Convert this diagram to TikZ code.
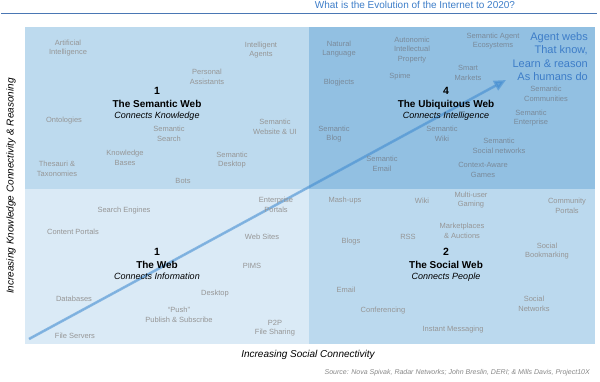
\documentclass[tikz,border=0pt]{standalone}
\usepackage{fontspec}
\setmainfont{Liberation Sans}
\usepackage{xcolor}
\usepackage{tikz}
\usetikzlibrary{arrows.meta, positioning}
\definecolor{semq}{RGB}{189,218,238}
\definecolor{ubiq}{RGB}{146,192,226}
\definecolor{webq}{RGB}{218,234,246}
\definecolor{socq}{RGB}{187,217,238}
\definecolor{itemgray}{RGB}{150,150,150}
\definecolor{itemdark}{RGB}{122,138,154}
\definecolor{titleblue}{RGB}{61,125,200}
\definecolor{ruleblue}{RGB}{74,119,180}
\definecolor{growthblue}{RGB}{63,138,208}
\tikzset{
  item/.style={font=\fontsize{7.5}{9.5}\selectfont, text=itemgray, align=center, inner sep=0pt},
  itemdk/.style={item, text=itemdark},
  webnum/.style={font=\bfseries\fontsize{10.5}{10.5}\selectfont, inner sep=0pt, text height=7.5pt, text depth=0pt},
  webname/.style={font=\bfseries\fontsize{10}{10}\selectfont, inner sep=0pt, text height=7.5pt, text depth=2pt},
  webnote/.style={font=\itshape\fontsize{9}{9}\selectfont, inner sep=0pt, text height=7pt, text depth=2pt},
  axislabel/.style={font=\itshape\fontsize{10}{10}\selectfont, inner sep=0pt},
  growth/.style={-{Triangle[length=12pt, width=10.5pt]}, line width=2.6pt, draw=growthblue, fill=growthblue, opacity=0.55},
}

\begin{document}
\begin{tikzpicture}[x=1pt, y=-1pt]
\useasboundingbox (0,0) rectangle (600,381);
% title and rule
\node[font=\fontsize{10}{10}\selectfont, text=titleblue, inner sep=0pt] (title) at (415,5) {What is the Evolution of the Internet to 2020?};
\draw[ruleblue, line width=0.9pt] (1,13) -- (597,13);
% quadrants
\fill[semq] (24.5,27) rectangle (309,189);
\fill[ubiq] (309,27) rectangle (595,189);
\fill[webq] (24.5,189) rectangle (309,344);
\fill[socq] (309,189) rectangle (595,344);
% growth arrow
\coordinate (tail) at (29,339);
\coordinate (tip) at (506,80);
\draw[growth] (tail) -- (tip);

% 1 - semantic web
\node[item] (ai) at (68,48) {Artificial\\Intelligence};
\node[item] (agents) at (261,50) {Intelligent\\Agents};
\node[item] (assist) at (207,77) {Personal\\Assistants};
\node[item] (onto) at (64,121) {Ontologies};
\node[item] (ssearch) at (169,134) {Semantic\\Search};
\node[item] (swebui) at (275,127) {Semantic\\Website \& UI};
\node[item] (kbases) at (125,158) {Knowledge\\Bases};
\node[item] (thes) at (57,169) {Thesauri \&\\Taxonomies};
\node[item] (sdesk) at (232,160) {Semantic\\Desktop};
\node[item] (bots) at (183,181) {Bots};
\node[webnum] (num1) at (157,91) {1};
\node[webname, below=4.5pt of num1] (semweb) {The Semantic Web};
\node[webnote, below=1.5pt of semweb] (semnote) {Connects Knowledge};

% 4 - ubiquitous web
\node[itemdk] (natlang) at (339,49) {Natural\\Language};
\node[itemdk] (autonomic) at (412,50) {Autonomic\\Intellectual\\Property};
\node[itemdk] (ecosys) at (493,41) {Semantic Agent\\Ecosystems};
\node[itemdk] (smart) at (468,73) {Smart\\Markets};
\node[itemdk] (spime) at (400,77) {Spime};
\node[itemdk] (blogjects) at (339,83) {Blogjects};
\node[itemdk] (scomm) at (546,94) {Semantic\\Communities};
\node[itemdk] (sent) at (531,118) {Semantic\\Enterprise};
\node[itemdk] (sblog) at (334,134) {Semantic\\Blog};
\node[itemdk] (swiki) at (442,134) {Semantic\\Wiki};
\node[itemdk] (ssocial) at (499,146) {Semantic\\Social networks};
\node[itemdk] (semail) at (382,164) {Semantic\\Email};
\node[itemdk] (games) at (483,170) {Context-Aware\\Games};
\node[font=\fontsize{11}{13.5}\selectfont, text=titleblue, align=right, inner sep=0pt, anchor=east] (agentwebs) at (588,56.5) {Agent webs\\That know,\\Learn \& reason\\As humans do};
\node[webnum] (num4) at (446,91) {4};
\node[webname, below=4.5pt of num4] (ubiweb) {The Ubiquitous Web};
\node[webnote, below=1.5pt of ubiweb] (ubinote) {Connects Intelligence};

% 1 - the web
\node[item] (entportals) at (276,205) {Enterprise\\Portals};
\node[item] (searcheng) at (124,211) {Search Engines};
\node[item] (contentp) at (73,232) {Content Portals};
\node[item] (websites) at (262,237) {Web Sites};
\node[item] (pims) at (252,266) {PIMS};
\node[item] (databases) at (74,299) {Databases};
\node[item] (desktop) at (215,294) {Desktop};
\node[item] (push) at (179,315) {``Push''\\Publish \& Subscribe};
\node[item] (p2p) at (275,328) {P2P\\File Sharing};
\node[item] (fileserv) at (75,336) {File Servers};
\node[webnum] (num1b) at (157,252) {1};
\node[webname, below=4.5pt of num1b] (theweb) {The Web};
\node[webnote, below=1.5pt of theweb] (webnote) {Connects Information};

% 2 - social web
\node[item] (mashups) at (345,201) {Mash-ups};
\node[item] (wiki) at (422,201) {Wiki};
\node[item] (gaming) at (471,200) {Multi-user\\Gaming};
\node[item] (commportals) at (567,206) {Community\\Portals};
\node[item] (market) at (462,231) {Marketplaces\\\& Auctions};
\node[item] (rss) at (408,237) {RSS};
\node[item] (blogs) at (351,242) {Blogs};
\node[item] (bookmark) at (547,251) {Social\\Bookmarking};
\node[item] (email) at (346,290) {Email};
\node[item] (socnet) at (534,304) {Social\\Networks};
\node[item] (conf) at (383,311) {Conferencing};
\node[item] (im) at (453,330) {Instant Messaging};
\node[webnum] (num2) at (446,252) {2};
\node[webname, below=4.5pt of num2] (socweb) {The Social Web};
\node[webnote, below=1.5pt of socweb] (socnote) {Connects People};

% axes and source
\node[axislabel] (xlabel) at (308,355) {Increasing Social Connectivity};
\node[axislabel, rotate=90] (ylabel) at (11,186) {Increasing Knowledge Connectivity \& Reasoning};
\node[font=\itshape\fontsize{7}{7}\selectfont, text=itemgray!90!black, inner sep=0pt, anchor=east] (source) at (590,373) {Source: Nova Spivak, Radar Networks; John Breslin, DERI; \& Mills Davis, Project10X};
\end{tikzpicture}
\end{document}
